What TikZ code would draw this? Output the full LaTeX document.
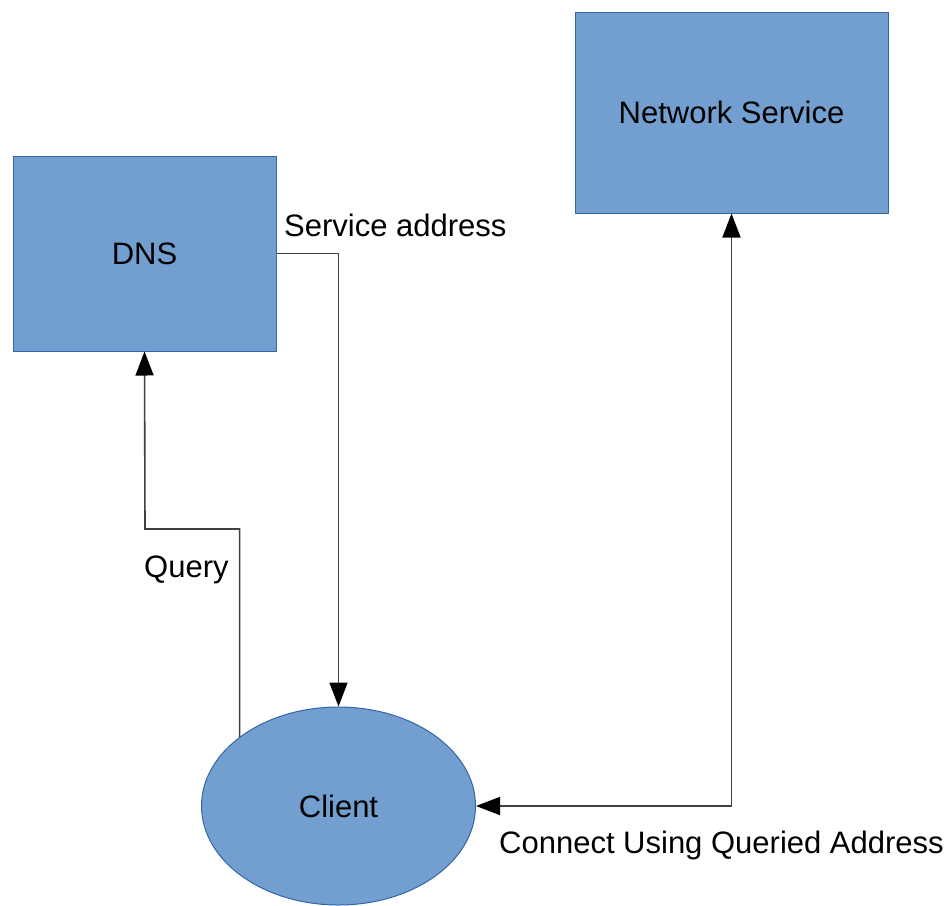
\documentclass[tikz,border=0pt]{standalone}
\usepackage{fontspec}
\setmainfont{Liberation Sans}
\usetikzlibrary{arrows.meta,shapes.geometric}
\definecolor{boxfill}{HTML}{729FCF}
\definecolor{boxline}{HTML}{3465A4}
\begin{document}
\begin{tikzpicture}[x=1pt,y=-1pt,
  box/.style={draw=boxline,fill=boxfill,line width=1pt,inner sep=0pt,font=\fontsize{31}{36}\selectfont},
  tip/.tip={Triangle[length=24pt,width=18pt,fill=black,color=black]},
  conn/.style={draw=black!75,line width=1.6pt,-tip},
  lbl/.style={font=\fontsize{31}{36}\selectfont,inner sep=0pt,anchor=west}]
\useasboundingbox (0,0) rectangle (949,905);
\node[box,minimum width=263pt,minimum height=195pt] (dns) at (144.5,253.5) {DNS};
\node[box,minimum width=313pt,minimum height=201pt] (ns) at (731.5,112.5) {Network Service};
\node[box,ellipse,minimum width=274pt,minimum height=198pt] (client) at (338.5,806) {Client};
\coordinate (qbend) at (145,529);
\draw[conn] (client.145) |- (qbend) -- (dns.south);
\draw[conn] (dns.east) -| (client.north);
\draw[conn,tip-tip] (ns.south) |- (client.east);
\node[lbl] (lsa) at (284,225) {Service address};
\node[lbl] (lq) at (144,570) {Query};
\node[lbl] (lc) at (499,845) {Connect Using Queried Address};
\end{tikzpicture}
\end{document}
